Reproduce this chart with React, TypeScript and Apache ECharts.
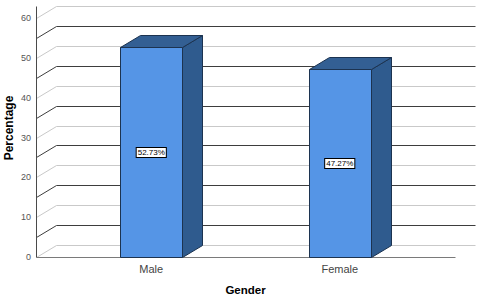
import React, { useEffect, useRef } from 'react';
import * as echarts from 'echarts';

const categories = ['Male', 'Female'];
const percentages = [52.73, 47.27];
const valueLabels = ['52.73%', '47.27%'];
const wallLines = [0, 5, 10, 15, 20, 25, 30, 35, 40, 45, 50, 55, 60];
const yMin = 0;
const yMax = 60;
const yInterval = 10;

const FONT = '"Liberation Sans", Arial, Helvetica, sans-serif';

export default function App() {
  const ref = useRef<HTMLDivElement>(null);

  useEffect(() => {
    document.body.style.margin = '0';
    const chart = echarts.init(ref.current as HTMLDivElement, null, { renderer: 'svg' });
    const DX = 20;
    const DY = -12;
    const EXT = 21;
    const px = (v: number) => Math.round(v) + 0.5;

    const renderWalls = (params: any, api: any) => {
      const cs = params.coordSys;
      const left = px(cs.x - EXT);
      const right = px(cs.x + cs.width + EXT);
      const children: any[] = [];
      wallLines.forEach((v) => {
        const y = px(api.coord([0, v])[1]);
        const light = v % 10 === 0;
        const color = light ? '#c9c9c9' : '#3d3d3d';
        children.push({
          type: 'line',
          shape: { x1: left + DX, y1: y + DY, x2: right + DX, y2: y + DY },
          style: { stroke: color, lineWidth: 1 },
        });
        children.push({
          type: 'line',
          shape: { x1: left, y1: y, x2: left + DX, y2: y + DY },
          style: { stroke: color, lineWidth: 1 },
        });
      });
      const y0 = px(api.coord([0, yMin])[1]);
      const yTop = px(api.coord([0, yMax])[1] + DY);
      children.push({
        type: 'line',
        shape: { x1: left, y1: yTop, x2: left, y2: y0 },
        style: { stroke: '#4a4a4a', lineWidth: 1 },
      });
      children.push({
        type: 'line',
        shape: { x1: left, y1: y0, x2: right, y2: y0 },
        style: { stroke: '#7a7a7a', lineWidth: 1 },
      });
      return { type: 'group', children };
    };

    const renderBars = (params: any, api: any) => {
      const i = api.value(0);
      const v = api.value(1);
      const pt = api.coord([i, v]);
      const cx = pt[0];
      const yt = px(pt[1]);
      const yb = px(api.coord([i, 0])[1]);
      const w = api.size([1, 0])[0] * 0.33;
      const x0 = px(cx - w / 2);
      const x1 = px(cx + w / 2);
      const stroke = '#1c3350';
      return {
        type: 'group',
        children: [
          {
            type: 'polygon',
            shape: { points: [[x1, yt], [x1 + DX, yt + DY], [x1 + DX, yb + DY], [x1, yb]] },
            style: { fill: '#2f5b8e', stroke, lineWidth: 1 },
          },
          {
            type: 'polygon',
            shape: { points: [[x0, yt], [x1, yt], [x1 + DX, yt + DY], [x0 + DX, yt + DY]] },
            style: { fill: '#335f93', stroke, lineWidth: 1 },
          },
          {
            type: 'rect',
            shape: { x: x0, y: yt, width: x1 - x0, height: yb - yt },
            style: { fill: '#5595e6', stroke, lineWidth: 1 },
          },
          {
            type: 'text',
            x: cx,
            y: (yt + yb) / 2,
            style: {
              text: valueLabels[params.dataIndex],
              fill: '#000',
              font: `8px ${FONT}`,
              align: 'center',
              verticalAlign: 'middle',
              backgroundColor: '#fff',
              borderColor: '#000',
              borderWidth: 1,
              padding: [1, 1, 0, 1],
            },
          },
        ],
      };
    };

    chart.setOption({
      animation: false,
      backgroundColor: '#ffffff',
      textStyle: { fontFamily: FONT },
      grid: { left: 57, right: 46, top: 18, bottom: 41, containLabel: false, outerBoundsMode: 'none' },
      xAxis: {
        type: 'category',
        data: categories,
        axisLine: { show: false },
        axisTick: { show: false },
        splitLine: { show: false },
        axisLabel: { color: '#444', fontSize: 11, margin: 6, fontFamily: FONT },
        name: 'Gender',
        nameLocation: 'middle',
        nameGap: 27,
        nameTextStyle: { color: '#000', fontWeight: 'bold', fontSize: 11.5, fontFamily: FONT },
      },
      yAxis: {
        type: 'value',
        min: yMin,
        max: yMax,
        interval: yInterval,
        offset: 21,
        axisLine: { show: false },
        axisTick: { show: false },
        splitLine: { show: false },
        axisLabel: { color: '#555', fontSize: 9, margin: 5, fontFamily: FONT },
      },
      graphic: [
        {
          type: 'text',
          x: 9,
          y: 128,
          rotation: Math.PI / 2,
          style: {
            text: 'Percentage',
            fill: '#000',
            font: `bold 12px ${FONT}`,
            align: 'center',
            verticalAlign: 'middle',
          },
        },
      ],
      series: [
        {
          type: 'custom',
          data: [[0, 0]],
          renderItem: renderWalls,
          silent: true,
          z: 1,
        },
        {
          type: 'custom',
          data: percentages.map((v, i) => [i, v]),
          renderItem: renderBars,
          z: 2,
        },
      ],
    });

    return () => chart.dispose();
  }, []);

  return (
    <div
      ref={ref}
      style={{ position: 'fixed', left: 0, top: 0, width: 480, height: 298 }}
    />
  );
}
